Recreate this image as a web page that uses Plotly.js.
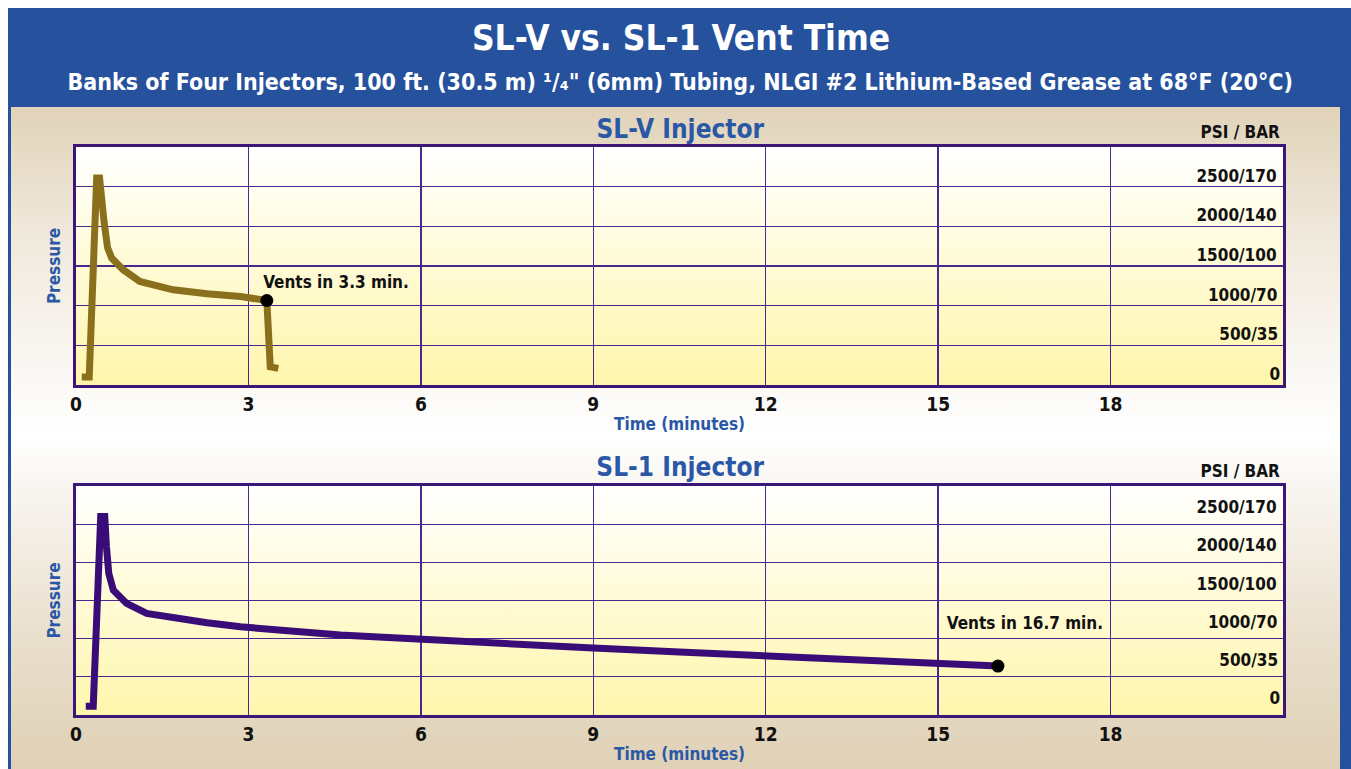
<!DOCTYPE html>
<html>
<head>
<meta charset="utf-8">
<script src="https://cdn.plot.ly/plotly-3.0.1.min.js"></script>
<style>
  html, body { margin:0; padding:0; background:#ffffff; }
  #frame { position:absolute; left:8px; top:8px; width:1343px; height:761px; background:#26519c; }
  #panel { position:absolute; left:11px; top:107px; width:1329px; height:662px;
    background: linear-gradient(to bottom, #e1d3b9 0%, #efe7da 18%, #faf8f4 40%, #ffffff 50%, #f8f5f0 58%, #e9dfcd 80%, #e0d1b6 100%); }
  #chart { position:absolute; left:0; top:0; width:1351px; height:769px; }
  #chart text { font-stretch: condensed !important; }
</style>
</head>
<body>
<div id="frame"></div>
<div id="panel"></div>
<div id="chart"></div>
<script>
// ---- data ----
const slvTime = [0.10, 0.23, 0.36, 0.41, 0.49, 0.55, 0.62, 0.82, 1.11, 1.69, 2.28, 2.86, 3.32, 3.35, 3.38, 3.52];
const slvPsi  = [100, 100, 2610, 2610, 2045, 1728, 1601, 1453, 1305, 1200, 1149, 1115, 1065, 314, 229, 209];
const slvVentTime = [3.32];
const slvVentPsi  = [1065];

const sl1Time = [0.17, 0.30, 0.43, 0.50, 0.53, 0.57, 0.65, 0.88, 1.23, 1.70, 2.28, 2.86, 3.44, 4.02, 4.60, 5.18, 5.76, 6.34, 7.5, 9, 10.5, 12, 13.5, 15, 16.04];
const sl1Psi  = [114, 114, 2600, 2600, 2200, 1855, 1636, 1462, 1331, 1266, 1208, 1156, 1113, 1077, 1047, 1025, 1000, 985, 940, 877, 825, 772, 726, 685, 641];
const sl1VentTime = [16.04];
const sl1VentPsi  = [641];

const xTickVals = [0, 3, 6, 9, 12, 15, 18];
const xTickText = ['0', '3', '6', '9', '12', '15', '18'];
const yTickVals = [0, 500, 1000, 1500, 2000, 2500];
const yTickText = ['0', '500/35', '1000/70', '1500/100', '2000/140', '2500/170'];

const titleText = 'SL-V vs. SL-1 Vent Time';
const subtitleText = 'Banks of Four Injectors, 100 ft. (30.5 m) \u00B9/\u2084" (6mm) Tubing, NLGI #2 Lithium-Based Grease at 68\u00B0F (20\u00B0C)';
const panelTitles = ['SL-V Injector', 'SL-1 Injector'];
const ventLabels = ['Vents in 3.3 min.', 'Vents in 16.7 min.'];

// ---- layout helpers ----
const W = 1351, H = 769;
const FONT = '"DejaVu Sans", sans-serif';
const px = x => x / W;
const py = y => 1 - y / H;

const xDom = [px(76), px(1283)];
const yDomTop = [py(385), py(147)];
const yDomBot = [py(715), py(486)];

const gradSvg = "<svg xmlns='http://www.w3.org/2000/svg' width='10' height='100' preserveAspectRatio='none' viewBox='0 0 10 100'><defs><linearGradient id='g' x1='0' y1='0' x2='0' y2='1'><stop offset='0' stop-color='#ffffff'/><stop offset='1' stop-color='#fff6ac'/></linearGradient></defs><rect width='10' height='100' fill='url(#g)'/></svg>";
const gradUri = 'data:image/svg+xml;charset=utf-8,' + encodeURIComponent(gradSvg);

const purple = '#3d1778';
const gridPurple = '#4b2890';
const blue = '#2b58a6';

function xaxisDef(anchor) {
  return {
    domain: xDom, anchor: anchor, range: [0, 21], fixedrange: true,
    tickvals: xTickVals, ticktext: xTickText, ticks: '',
    showgrid: true, gridcolor: gridPurple, gridwidth: 1.3,
    showline: true, mirror: true, linecolor: purple, linewidth: 3,
    zeroline: false,
    tickfont: { family: FONT, size: 19, color: '#111111', weight: 'bold' },
    title: { text: '<b>Time (minutes)</b>', font: { family: FONT, size: 17, color: blue }, standoff: 5 }
  };
}
function yaxisDef(anchor, dom) {
  return {
    domain: dom, anchor: anchor, range: [0, 3000], fixedrange: true,
    tickvals: [0, 500, 1000, 1500, 2000, 2500, 3000], showticklabels: false, ticks: '',
    showgrid: true, gridcolor: gridPurple, gridwidth: 1.3,
    showline: true, mirror: true, linecolor: purple, linewidth: 3,
    zeroline: false,
    title: { text: '<b>Pressure</b>', font: { family: FONT, size: 17, color: blue }, standoff: 9 }
  };
}

const traces = [
  { x: slvTime, y: slvPsi, xaxis: 'x', yaxis: 'y', mode: 'lines', line: { color: '#8a701c', width: 7 }, hoverinfo: 'skip' },
  { x: slvVentTime, y: slvVentPsi, xaxis: 'x', yaxis: 'y', mode: 'markers', marker: { color: '#000000', size: 13 }, hoverinfo: 'skip' },
  { x: sl1Time, y: sl1Psi, xaxis: 'x2', yaxis: 'y2', mode: 'lines', line: { color: '#3a0c78', width: 7 }, hoverinfo: 'skip' },
  { x: sl1VentTime, y: sl1VentPsi, xaxis: 'x2', yaxis: 'y2', mode: 'markers', marker: { color: '#000000', size: 13 }, hoverinfo: 'skip' }
];

const annotations = [];
// subtitle
annotations.push({ xref: 'paper', yref: 'paper', x: px(681), y: py(82), xanchor: 'center', yanchor: 'middle',
  text: '<b>' + subtitleText + '</b>', showarrow: false, font: { family: FONT, size: 23, color: '#ffffff' } });
// panel titles
[[129, 'x', 'y'], [467, 'x2', 'y2']].forEach((p, i) => {
  annotations.push({ xref: 'paper', yref: 'paper', x: px(680), y: py(p[0]), xanchor: 'center', yanchor: 'middle',
    text: '<b>' + panelTitles[i] + '</b>', showarrow: false, font: { family: FONT, size: 26, color: blue } });
});
// PSI / BAR headers
[132, 471].forEach(y => {
  annotations.push({ xref: 'paper', yref: 'paper', x: px(1286), y: py(y), xanchor: 'right', yanchor: 'middle',
    text: '<b>PSI / BAR</b>', showarrow: false, font: { family: FONT, size: 17, color: '#111111' } });
});
// y tick labels inside the right column
[['x', 'y', 11], ['x2', 'y2', 17]].forEach(ax => {
  yTickVals.forEach((v, i) => {
    annotations.push({ xref: ax[0], yref: ax[1], x: 21, y: v, xanchor: 'right', yanchor: 'middle',
      xshift: 0, yshift: ax[2], text: '<b>' + yTickText[i] + '</b>', showarrow: false,
      font: { family: FONT, size: 17, color: '#111111' } });
  });
});
// vent labels
annotations.push({ xref: 'x', yref: 'y', x: slvVentTime[0], y: slvVentPsi[0], xanchor: 'left', yanchor: 'middle',
  xshift: -14, yshift: 19, text: '<b>' + ventLabels[0] + '</b>', showarrow: false,
  font: { family: FONT, size: 17, color: '#111111' } });
annotations.push({ xref: 'x2', yref: 'y2', x: sl1VentTime[0], y: sl1VentPsi[0], xanchor: 'right', yanchor: 'middle',
  xshift: 116, yshift: 43, text: '<b>' + ventLabels[1] + '</b>', showarrow: false,
  font: { family: FONT, size: 17, color: '#111111' } });

const images = [yDomTop, yDomBot].map(d => ({
  source: gradUri, xref: 'paper', yref: 'paper', x: xDom[0], y: d[1],
  sizex: xDom[1] - xDom[0], sizey: d[1] - d[0], xanchor: 'left', yanchor: 'top',
  sizing: 'stretch', layer: 'below'
}));

const layout = {
  width: W, height: H,
  margin: { l: 0, r: 0, t: 0, b: 0 },
  paper_bgcolor: 'rgba(0,0,0,0)', plot_bgcolor: 'rgba(0,0,0,0)',
  showlegend: false,
  title: { text: '<b>' + titleText + '</b>', x: px(681), xanchor: 'center', y: py(38), yanchor: 'middle',
    font: { family: FONT, size: 35, color: '#ffffff' } },
  xaxis: xaxisDef('y'), yaxis: yaxisDef('x', yDomTop),
  xaxis2: xaxisDef('y2'), yaxis2: yaxisDef('x2', yDomBot),
  annotations: annotations,
  images: images
};

Plotly.newPlot('chart', traces, layout, { staticPlot: true, displayModeBar: false });
</script>
</body>
</html>
